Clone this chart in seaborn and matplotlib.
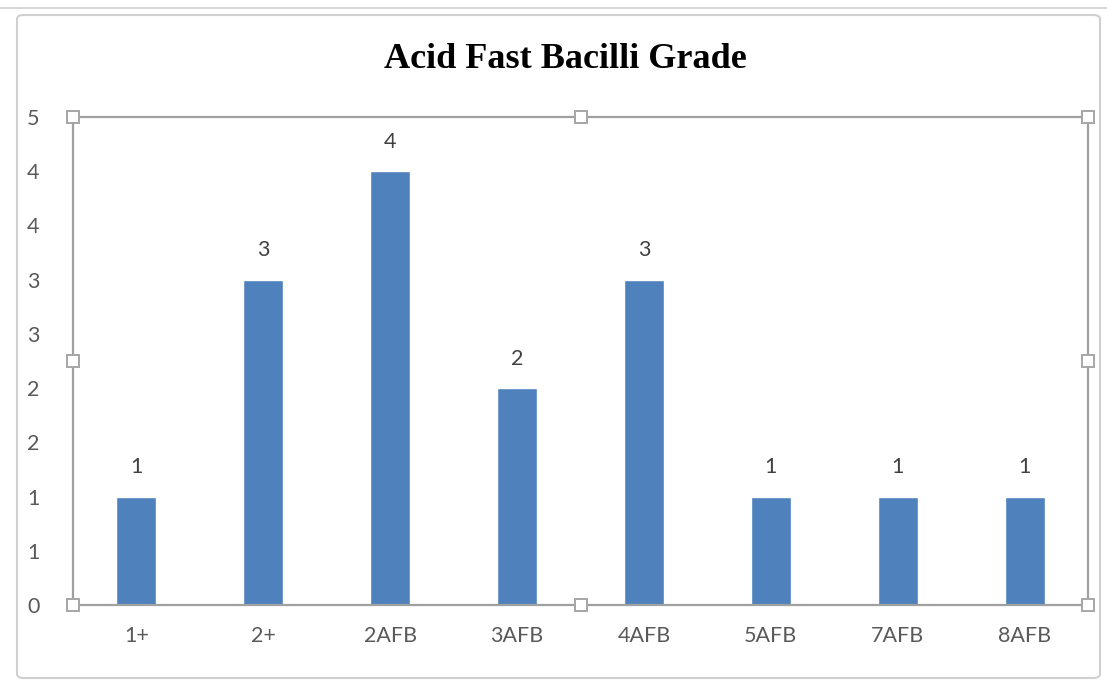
import matplotlib
matplotlib.use("Agg")
import matplotlib.pyplot as plt
import seaborn as sns
import pandas as pd
import numpy as np
from matplotlib.patches import FancyBboxPatch

categories = ["1+", "2+", "2AFB", "3AFB", "4AFB", "5AFB", "7AFB", "8AFB"]
counts = [1, 3, 4, 2, 3, 1, 1, 1]
y_ticks = [0, 0.5, 1, 1.5, 2, 2.5, 3, 3.5, 4, 4.5]
y_tick_labels = ["0", "1", "1", "2", "2", "3", "3", "4", "4", "5"]
title = "Acid Fast Bacilli Grade"

df = pd.DataFrame({"grade": categories, "count": counts})

sns.set_theme(style="white")
plt.rcParams['font.family'] = ['Lato', 'DejaVu Sans']

fig = plt.figure(figsize=(11.07, 6.81), dpi=100)
ax = fig.add_axes([73/1107, 1-605/681, (1088-73)/1107, (605-117)/681])

sns.barplot(data=df, x="grade", y="count", color="#4F81BD", saturation=1,
            width=0.315, ax=ax)

ax.set_ylim(0, 4.5)
ax.set_xlim(-0.5, len(categories) - 0.5)
ax.set_yticks(y_ticks)
ax.set_yticklabels(y_tick_labels)
ax.set_xlabel("")
ax.set_ylabel("")
ax.tick_params(axis="both", length=0, labelsize=15.5, colors="#595959")
ax.tick_params(axis="y", pad=24)
ax.tick_params(axis="x", pad=15)

for s in ax.spines.values():
    s.set_visible(True)
    s.set_color("#A0A0A0")
    s.set_linewidth(1.6)

for c in ax.containers:
    ax.bar_label(c, labels=[str(v) for v in counts], padding=14,
                 fontsize=15.5, color="#404040")

# selection handles of plot area
hx = [0, 0.5, 1, 0, 1, 0, 0.5, 1]
hy = [1, 1, 1, 0.5, 0.5, 0, 0, 0]
ax.plot(hx, hy, linestyle="none", marker="s", markersize=8,
        markerfacecolor="white", markeredgecolor="#A6A6A6", markeredgewidth=1.4,
        transform=ax.transAxes, clip_on=False, zorder=10)

# chart area frame
frame = FancyBboxPatch((17/1107, 3/681), (1100-17)/1107, (678-15)/681,
                       boxstyle="round,pad=0,rounding_size=0.006",
                       transform=fig.transFigure, fill=False,
                       edgecolor="#D0D0D0", linewidth=1.5)
fig.patches.append(frame)
fig.add_artist(plt.Line2D([0, 1], [1-8/681, 1-8/681], color="#D0D0D0",
                          linewidth=1.2, transform=fig.transFigure))

fig.text(565/1107, 1-60/681, title, ha="center", va="center",
         fontsize=26, fontweight="bold", family=["Liberation Serif", "DejaVu Serif"],
         color="#000000")

fig.savefig("out.png", dpi=100, facecolor="white")
